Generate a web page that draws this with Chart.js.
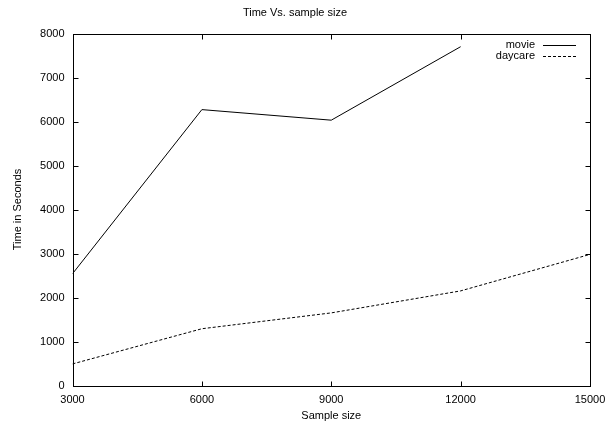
<!DOCTYPE html>
<html>
<head>
<meta charset="utf-8">
<script src="https://cdn.jsdelivr.net/npm/chart.js@4/dist/chart.umd.min.js"></script>
<style>
  html, body { margin: 0; padding: 0; background: #fff; }
  canvas { display: block; }
</style>
</head>
<body>
<canvas id="c" width="605" height="423"></canvas>
<script>
// Run time (seconds) per sample size
const sampleSizes  = [3000, 6000, 9000, 12000, 15000];
const movieTimes   = [2540, 6270, 6030, 7700, null];
const daycareTimes = [490, 1290, 1650, 2150, 2980];
const xTickValues  = [3000, 6000, 9000, 12000, 15000];
const yTickValues  = [0, 1000, 2000, 3000, 4000, 5000, 6000, 7000, 8000];
const seriesNames  = ['movie', 'daycare'];

const FONT = 'Liberation Sans, Arial, Helvetica, sans-serif';

function toPoints(values) {
  return sampleSizes
    .map((x, i) => ({ x: x, y: values[i] }))
    .filter(p => p.y !== null);
}

// Frame with inward ticks on all four sides, plus a gnuplot-style key
const framePlugin = {
  id: 'frame',
  afterDatasetsDraw(chart) {
    const { ctx, chartArea: a, scales } = chart;
    const L = Math.round(a.left) + 0.5, R = Math.round(a.right) + 0.5;
    const T = Math.round(a.top) + 0.5, B = Math.round(a.bottom) + 0.5;
    ctx.save();
    ctx.strokeStyle = '#000';
    ctx.lineWidth = 1;
    ctx.setLineDash([]);
    ctx.strokeRect(L, T, R - L, B - T);

    const tl = 5;
    ctx.beginPath();
    xTickValues.forEach(v => {
      const px = Math.round(scales.x.getPixelForValue(v)) + 0.5;
      ctx.moveTo(px, B); ctx.lineTo(px, B - tl);
      ctx.moveTo(px, T); ctx.lineTo(px, T + tl);
    });
    yTickValues.forEach(v => {
      const py = Math.round(scales.y.getPixelForValue(v)) + 0.5;
      ctx.moveTo(L, py); ctx.lineTo(L + tl, py);
      ctx.moveTo(R, py); ctx.lineTo(R - tl, py);
    });
    ctx.stroke();

    // key
    ctx.font = '11px ' + FONT;
    ctx.fillStyle = '#000';
    ctx.textAlign = 'right';
    ctx.textBaseline = 'middle';
    const keyRows = [44.5, 56];
    chart.data.datasets.forEach((ds, i) => {
      const y = keyRows[i];
      ctx.fillText(seriesNames[i], 535, y);
      ctx.beginPath();
      ctx.setLineDash(ds.borderDash || []);
      ctx.moveTo(543, Math.round(y) + 0.5);
      ctx.lineTo(576, Math.round(y) + 0.5);
      ctx.stroke();
    });
    ctx.restore();
  }
};

new Chart(document.getElementById('c'), {
  type: 'line',
  data: {
    datasets: [
      {
        label: seriesNames[0],
        data: toPoints(movieTimes),
        borderColor: '#000',
        borderWidth: 1,
        pointRadius: 0,
        tension: 0,
        fill: false
      },
      {
        label: seriesNames[1],
        data: toPoints(daycareTimes),
        borderColor: '#000',
        borderWidth: 1,
        borderDash: [3, 2],
        pointRadius: 0,
        tension: 0,
        fill: false
      }
    ]
  },
  options: {
    responsive: false,
    animation: false,
    devicePixelRatio: 1,
    layout: { padding: { left: 0, right: 15, top: 0, bottom: 0 } },
    plugins: {
      legend: { display: false },
      tooltip: { enabled: false },
      title: {
        display: true,
        text: 'Time Vs. sample size',
        color: '#000',
        font: { family: FONT, size: 11, weight: 'normal' },
        padding: { top: 6.4, bottom: 13.9 }
      }
    },
    scales: {
      x: {
        type: 'linear',
        min: 3000,
        max: 15000,
        afterBuildTicks(scale) { scale.ticks = xTickValues.map(v => ({ value: v })); },
        afterFit(scale) {
          scale.height = 37.5;
          scale.paddingLeft = 0;
          scale.paddingRight = 0;
        },
        grid: { display: false, drawTicks: false },
        border: { display: false },
        ticks: {
          color: '#000',
          padding: 8,
          maxRotation: 0,
          autoSkip: false,
          font: { family: FONT, size: 11 },
          callback: v => String(v)
        },
        title: {
          display: true,
          text: 'Sample size',
          color: '#000',
          font: { family: FONT, size: 11 },
          padding: { top: 0, bottom: 0 }
        }
      },
      y: {
        type: 'linear',
        min: 0,
        max: 8000,
        afterBuildTicks(scale) { scale.ticks = yTickValues.map(v => ({ value: v })); },
        afterFit(scale) {
          scale.width = 72.5;
          scale.paddingTop = 0;
          scale.paddingBottom = 0;
        },
        grid: { display: false, drawTicks: false },
        border: { display: false },
        ticks: {
          color: '#000',
          padding: 8,
          autoSkip: false,
          font: { family: FONT, size: 11 },
          callback: v => String(v)
        },
        title: {
          display: true,
          text: 'Time in Seconds',
          color: '#000',
          font: { family: FONT, size: 11 },
          padding: { top: 11.5, bottom: 0 }
        }
      }
    }
  },
  plugins: [framePlugin]
});
</script>
</body>
</html>
